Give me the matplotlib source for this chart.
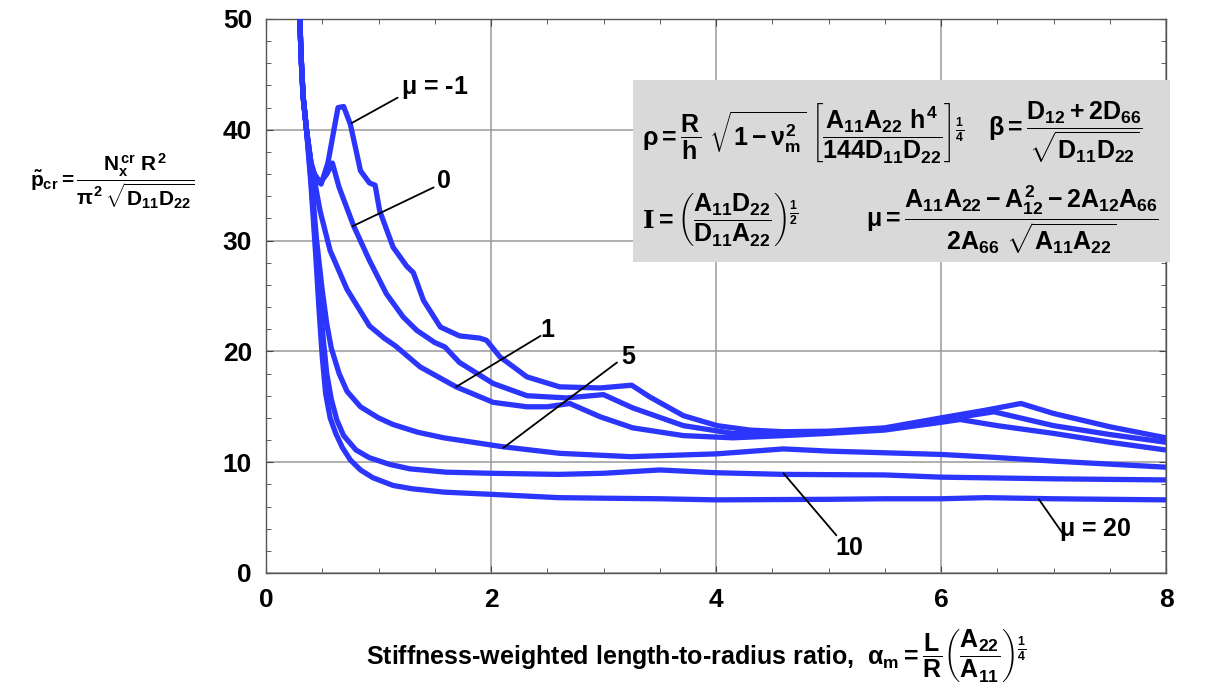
import matplotlib
matplotlib.use('Agg')
import matplotlib.pyplot as plt
from matplotlib import font_manager
from matplotlib.patches import Rectangle

# pick a narrow helvetica-like face if there is one
names = {f.name for f in font_manager.fontManager.ttflist}
face = 'Liberation Sans Narrow' if 'Liberation Sans Narrow' in names else 'Liberation Sans'

plt.rcParams['font.family'] = [face, 'DejaVu Sans']
plt.rcParams['font.weight'] = 'bold'
plt.rcParams['mathtext.fontset'] = 'custom'
plt.rcParams['mathtext.rm'] = face + ':bold'
plt.rcParams['mathtext.it'] = face + ':bold'
plt.rcParams['mathtext.bf'] = face + ':bold'
plt.rcParams['mathtext.sf'] = face + ':bold'
plt.rcParams['mathtext.tt'] = 'DejaVu Serif:bold'

x_m1 = [0.295, 0.30, 0.315, 0.33, 0.36, 0.40, 0.43, 0.49, 0.55, 0.64, 0.69, 0.75, 0.84, 0.92, 0.97, 1.01, 1.13,
        1.25, 1.31, 1.40, 1.55, 1.72, 1.90, 1.96, 2.08, 2.32, 2.61, 2.97, 3.25, 3.41, 3.71, 4.01, 4.30, 4.60,
        5.00, 5.50, 6.00, 6.40, 6.71, 7.00, 7.50, 8.00]
y_m1 = [52.0, 50.0, 46.0, 43.0, 40.0, 37.0, 36.0, 35.1, 37.0, 42.0, 42.1, 40.5, 36.3, 35.2, 35.0, 32.7, 29.4,
        27.7, 27.1, 24.6, 22.2, 21.4, 21.2, 21.0, 19.5, 17.7, 16.8, 16.7, 16.95, 15.9, 14.2, 13.3, 12.9, 12.75,
        12.8, 13.1, 14.0, 14.7, 15.3, 14.4, 13.2, 12.2]

x_0 = [0.295, 0.30, 0.315, 0.33, 0.36, 0.40, 0.43, 0.48, 0.54, 0.59, 0.65, 0.78, 0.92, 1.07, 1.22, 1.34, 1.50,
       1.59, 1.72, 2.02, 2.32, 2.67, 3.00, 3.26, 3.71, 4.15, 4.60, 5.00, 5.50, 6.00, 6.47, 7.00, 7.50, 8.00]
y_0 = [52.0, 50.0, 46.0, 43.0, 40.0, 37.0, 36.0, 35.2, 36.0, 37.0, 34.8, 31.3, 28.2, 25.2, 23.1, 21.9, 20.8,
       20.4, 19.0, 17.1, 16.0, 15.8, 16.1, 14.9, 13.3, 12.6, 12.6, 12.7, 13.0, 13.8, 14.55, 13.3, 12.5, 11.8]

x_1 = [0.295, 0.30, 0.315, 0.33, 0.36, 0.40, 0.43, 0.48, 0.57, 0.72, 0.92, 1.05, 1.15, 1.37, 1.69, 2.02, 2.32,
       2.50, 2.70, 2.97, 3.26, 3.71, 4.15, 4.60, 5.00, 5.50, 6.00, 6.17, 6.50, 7.00, 7.50, 8.00]
y_1 = [52.0, 50.0, 46.0, 43.0, 40.0, 37.0, 35.5, 32.7, 29.1, 25.6, 22.3, 21.2, 20.5, 18.6, 16.8, 15.4, 15.0,
       15.0, 15.3, 14.1, 13.1, 12.4, 12.2, 12.4, 12.6, 12.9, 13.6, 13.85, 13.3, 12.6, 11.8, 11.1]

x_5 = [0.295, 0.30, 0.315, 0.33, 0.36, 0.40, 0.45, 0.50, 0.54, 0.58, 0.65, 0.72, 0.84, 1.00, 1.13, 1.35, 1.58,
       2.10, 2.61, 3.24, 4.00, 4.60, 5.00, 6.00, 6.45, 7.00, 8.00]
y_5 = [52.0, 50.0, 46.0, 43.0, 40.0, 36.0, 30.0, 25.5, 22.5, 20.3, 18.0, 16.4, 15.0, 14.0, 13.4, 12.7, 12.2,
       11.4, 10.8, 10.5, 10.75, 11.2, 11.0, 10.7, 10.45, 10.1, 9.55]

x_10 = [0.295, 0.30, 0.315, 0.33, 0.36, 0.40, 0.44, 0.48, 0.51, 0.54, 0.58, 0.63, 0.69, 0.80, 0.92, 1.10, 1.28,
        1.60, 2.00, 2.60, 3.00, 3.50, 4.00, 4.60, 5.50, 6.00, 7.00, 8.00]
y_10 = [52.0, 50.0, 46.0, 43.0, 40.0, 35.5, 30.0, 24.5, 21.0, 18.0, 15.7, 13.8, 12.4, 11.1, 10.4, 9.8, 9.4,
        9.1, 9.0, 8.9, 9.0, 9.3, 9.05, 8.9, 8.85, 8.65, 8.5, 8.4]

x_20 = [0.295, 0.30, 0.315, 0.33, 0.36, 0.40, 0.44, 0.47, 0.50, 0.53, 0.57, 0.62, 0.68, 0.75, 0.84, 0.95, 1.13,
        1.30, 1.58, 2.00, 2.60, 3.00, 3.50, 4.00, 5.00, 5.50, 6.00, 6.40, 7.00, 8.00]
y_20 = [52.0, 50.0, 46.0, 43.0, 40.0, 35.0, 29.0, 24.0, 19.5, 16.2, 14.0, 12.6, 11.3, 10.2, 9.3, 8.6, 7.9,
        7.6, 7.3, 7.1, 6.8, 6.75, 6.7, 6.6, 6.65, 6.7, 6.7, 6.8, 6.7, 6.6]

curves = [(x_m1, y_m1), (x_0, y_0), (x_1, y_1), (x_5, y_5), (x_10, y_10), (x_20, y_20)]

# curve labels: text, point on curve, end of leader line, text anchor
labels = [r'$\mu$ = -1', '0', '1', '5', '10', r'$\mu$ = 20']
label_pts = [(0.76, 40.6), (0.77, 31.3), (1.69, 16.8), (2.11, 11.3), (4.60, 9.0), (6.87, 6.65)]
line_ends = [(1.17, 42.9), (1.49, 34.8), (2.44, 21.4), (3.12, 19.0), (5.07, 3.4), (7.08, 3.6)]
text_pos = [(1.20, 43.8), (1.52, 35.4), (2.44, 21.9), (3.16, 19.5), (5.06, 2.3), (7.05, 3.9)]

fig = plt.figure(figsize=(12.18, 6.91), dpi=100)
ax = fig.add_axes([266/1218, 1 - 573/691, 900/1218, 554/691])

for xs, ys in curves:
    ax.plot(xs, ys, color='#2b35fb', lw=3.8, solid_joinstyle='round', solid_capstyle='round', zorder=3)

for lab, p, e, t in zip(labels, label_pts, line_ends, text_pos):
    ax.annotate('', xy=p, xytext=e,
                arrowprops=dict(arrowstyle='-', color='black', lw=1.3, shrinkA=0, shrinkB=0), zorder=4)
    ax.text(t[0], t[1], lab, fontsize=18, fontweight='bold', ha='left', va='center', zorder=4)

ax.set_xlim(0, 8)
ax.set_ylim(0, 50)
ax.set_xticks([0, 2, 4, 6, 8])
ax.set_yticks([0, 10, 20, 30, 40, 50])
ax.set_xticks([i * 0.5 for i in range(17)], minor=True)
ax.set_yticks(list(range(0, 51, 2)), minor=True)
ax.grid(True, which='major', color='#9a9a9a', lw=1.1, zorder=0)
ax.tick_params(which='both', direction='in', top=True, right=True, color='#444444')
ax.tick_params(which='major', length=5, labelsize=19)
ax.tick_params(axis='y', which='major', pad=10)
ax.tick_params(axis='x', which='major', pad=11)
ax.tick_params(which='minor', length=3.5)
for lbl in ax.get_xticklabels() + ax.get_yticklabels():
    lbl.set_fontweight('bold')
for s in ax.spines.values():
    s.set_color('#555555')
    s.set_linewidth(1.0)

# y label, written horizontally at the left
fig.text(112/1218, 1 - 181/691,
         r'$\tilde{p}_{cr} = \dfrac{N_x^{cr}\ R^2}{\pi^2\,\sqrt{D_{11}D_{22}}}$',
         fontsize=15, ha='center', va='center')

# x label
fig.text(696/1218, 1 - 655/691,
         r'Stiffness-weighted length-to-radius ratio,  $\alpha_m = \dfrac{L}{R}\left(\dfrac{A_{22}}{A_{11}}\right)^{\frac{1}{4}}$',
         fontsize=18, ha='center', va='center')

# grey box with the parameter definitions
fig.patches.append(Rectangle((633/1218, 1 - 262/691), 537/1218, 182/691, transform=fig.transFigure,
                             facecolor='#d9d9d9', edgecolor='none', zorder=5))
fig.text(642/1218, 1 - 133/691,
         r'$\rho = \dfrac{R}{h}\ \sqrt{1 - \nu_m^2}\ \left[\dfrac{A_{11}A_{22}\ h^4}{144D_{11}D_{22}}\right]^{\frac{1}{4}}$',
         fontsize=18, ha='left', va='center', zorder=6)
fig.text(988/1218, 1 - 133/691,
         r'$\beta = \dfrac{D_{12} + 2D_{66}}{\sqrt{D_{11}D_{22}}}$',
         fontsize=18, ha='left', va='center', zorder=6)
fig.text(642/1218, 1 - 220/691,
         r'$\mathtt{I} = \left(\dfrac{A_{11}D_{22}}{D_{11}A_{22}}\right)^{\frac{1}{2}}$',
         fontsize=18, ha='left', va='center', zorder=6)
fig.text(866/1218, 1 - 220/691,
         r'$\mu = \dfrac{A_{11}A_{22} - A_{12}^2 - 2A_{12}A_{66}}{2A_{66}\ \sqrt{A_{11}A_{22}}}$',
         fontsize=18, ha='left', va='center', zorder=6)

fig.savefig('out.png', dpi=100)
